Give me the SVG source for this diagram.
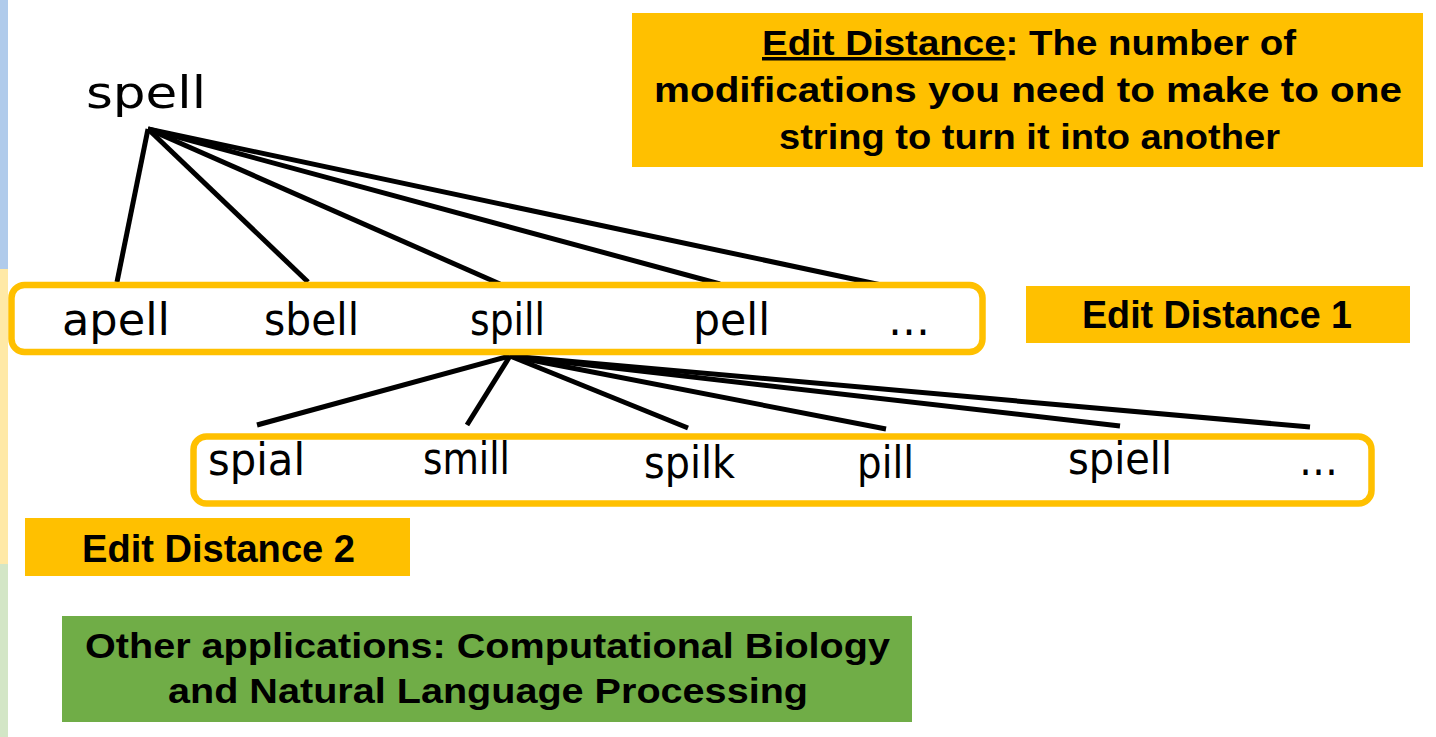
<svg xmlns="http://www.w3.org/2000/svg" width="1436" height="737" viewBox="0 0 1436 737">
<style>
.word{font-family:"DejaVu Sans","Liberation Sans",sans-serif;font-size:45px;fill:#000}
.bold{font-family:"Liberation Sans",Arial,sans-serif;font-weight:bold;fill:#000}
.edge{stroke:#000;stroke-width:5;stroke-linecap:butt;fill:none}
.group{fill:#fff;stroke:#FFC000;stroke-width:6.5}
.orange{fill:#FFC000}
.green{fill:#70AD47}
</style>
<rect width="1436" height="737" fill="#fff"/>
<g id="side-strips">
<rect x="0" y="0" width="8" height="269" fill="#B0CBEB"/>
<rect x="0" y="269" width="8" height="295" fill="#FFE9A6"/>
<rect x="0" y="564" width="8" height="173" fill="#D3E6C6"/>
</g>
<g id="connectors">
<line class="edge" x1="148" y1="129" x2="117" y2="282"/>
<line class="edge" x1="148" y1="129" x2="308" y2="282"/>
<line class="edge" x1="148" y1="129" x2="500" y2="284"/>
<line class="edge" x1="148" y1="129" x2="720" y2="284"/>
<line class="edge" x1="148" y1="129" x2="900" y2="289"/>
<line class="edge" x1="510" y1="356" x2="257" y2="425"/>
<line class="edge" x1="510" y1="356" x2="467" y2="425"/>
<line class="edge" x1="510" y1="356" x2="688" y2="428"/>
<line class="edge" x1="510" y1="356" x2="886" y2="429"/>
<line class="edge" x1="510" y1="356" x2="1120" y2="426"/>
<line class="edge" x1="510" y1="356" x2="1310" y2="427"/>
</g>
<g id="root-spell">
<text class="word" x="86" y="108" font-size="54" textLength="120" lengthAdjust="spacingAndGlyphs">spell</text>
</g>
<g id="distance1-group">
<rect class="group" x="11.5" y="285" width="971" height="67" rx="13"/>
<text class="word" x="62" y="335" textLength="108" lengthAdjust="spacingAndGlyphs">apell</text>
<text class="word" x="264" y="335" textLength="95" lengthAdjust="spacingAndGlyphs">sbell</text>
<text class="word" x="470" y="335" textLength="75" lengthAdjust="spacingAndGlyphs">spill</text>
<text class="word" x="693" y="335" textLength="77" lengthAdjust="spacingAndGlyphs">pell</text>
<text class="word" x="888" y="335" textLength="42" lengthAdjust="spacingAndGlyphs">…</text>
</g>
<g id="distance2-group">
<rect class="group" x="193.5" y="436.5" width="1178" height="67" rx="13"/>
<text class="word" x="208" y="475" textLength="97" lengthAdjust="spacingAndGlyphs">spial</text>
<text class="word" x="423" y="474" textLength="87" lengthAdjust="spacingAndGlyphs">smill</text>
<text class="word" x="644" y="478" textLength="91" lengthAdjust="spacingAndGlyphs">spilk</text>
<text class="word" x="857" y="478" textLength="57" lengthAdjust="spacingAndGlyphs">pill</text>
<text class="word" x="1068" y="474" textLength="104" lengthAdjust="spacingAndGlyphs">spiell</text>
<text class="word" x="1299" y="475" textLength="39" lengthAdjust="spacingAndGlyphs">…</text>
</g>
<g id="definition">
<rect class="orange" x="632" y="13" width="791" height="154"/>
<text class="bold" font-size="35" x="762" y="55" textLength="534" lengthAdjust="spacingAndGlyphs"><tspan text-decoration="underline">Edit Distance</tspan>: The number of</text>
<text class="bold" font-size="35" x="654" y="102" textLength="748" lengthAdjust="spacingAndGlyphs">modifications you need to make to one</text>
<text class="bold" font-size="35" x="779" y="149" textLength="501" lengthAdjust="spacingAndGlyphs">string to turn it into another</text>
</g>
<g id="label-distance1">
<rect class="orange" x="1026" y="286" width="384" height="57"/>
<text class="bold" font-size="38" x="1082" y="328" textLength="270" lengthAdjust="spacingAndGlyphs">Edit Distance 1</text>
</g>
<g id="label-distance2">
<rect class="orange" x="25" y="518" width="385" height="58"/>
<text class="bold" font-size="38" x="82" y="562" textLength="273" lengthAdjust="spacingAndGlyphs">Edit Distance 2</text>
</g>
<g id="applications">
<rect class="green" x="62" y="616" width="850" height="106"/>
<text class="bold" font-size="35" x="85" y="658" textLength="805" lengthAdjust="spacingAndGlyphs">Other applications: Computational Biology</text>
<text class="bold" font-size="35" x="168" y="703" textLength="640" lengthAdjust="spacingAndGlyphs">and Natural Language Processing</text>
</g>
</svg>
